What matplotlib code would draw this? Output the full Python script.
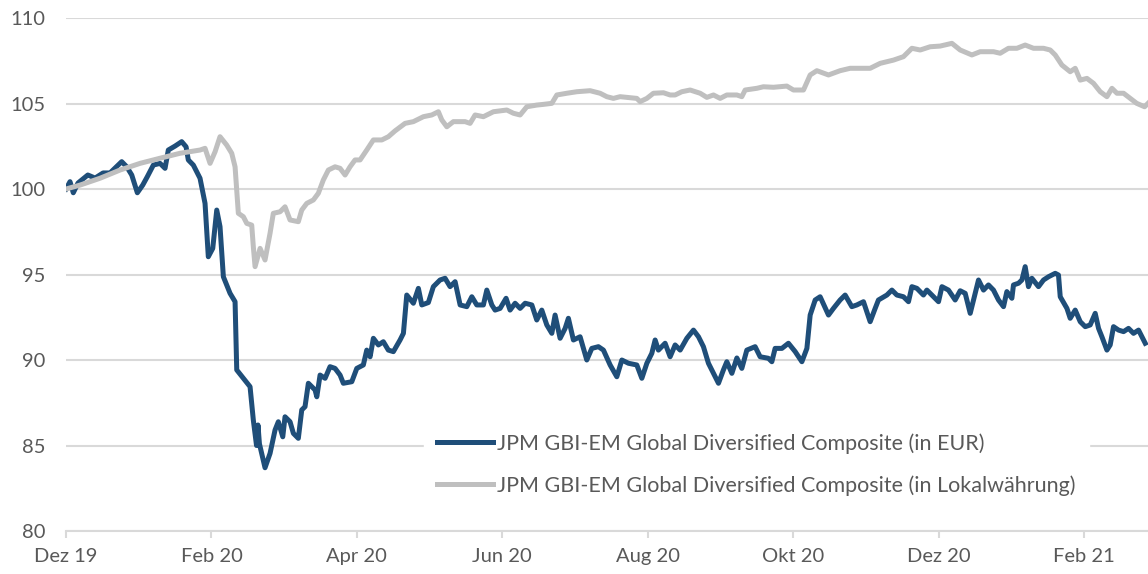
import matplotlib
matplotlib.use("Agg")
import matplotlib.pyplot as plt

# x = months since Dez 19, y = index value (start = 100)
eur_x = [0.00, 0.055, 0.10, 0.165, 0.30, 0.40, 0.51, 0.605, 0.675, 0.766, 0.835, 0.904,
         0.981, 1.055, 1.118, 1.201, 1.293, 1.362, 1.407, 1.499, 1.591, 1.651, 1.682, 1.751,
         1.843, 1.912, 1.957, 2.018, 2.073, 2.118, 2.164, 2.256, 2.325, 2.348, 2.531, 2.576,
         2.62, 2.64, 2.66, 2.737, 2.806, 2.875, 2.920, 2.981, 3.012, 3.081, 3.127, 3.195,
         3.242, 3.287, 3.333, 3.425, 3.449, 3.494, 3.563, 3.631, 3.700, 3.769, 3.814, 3.930,
         3.999, 4.089, 4.136, 4.182, 4.227, 4.296, 4.364, 4.433, 4.502, 4.594, 4.640, 4.686,
         4.777, 4.846, 4.893, 4.983, 5.052, 5.144, 5.213, 5.282, 5.351, 5.420, 5.512, 5.581,
         5.649, 5.740, 5.787, 5.856, 5.901, 5.970, 6.052, 6.107, 6.176, 6.245, 6.314, 6.406,
         6.474, 6.543, 6.612, 6.681, 6.726, 6.795, 6.864, 6.909, 6.978, 7.070, 7.162, 7.231,
         7.322, 7.391, 7.483, 7.575, 7.644, 7.735, 7.850, 7.919, 7.988, 8.056, 8.102, 8.147,
         8.239, 8.308, 8.377, 8.446, 8.538, 8.629, 8.698, 8.766, 8.835, 8.904, 8.973, 9.041,
         9.088, 9.157, 9.226, 9.294, 9.363, 9.477, 9.546, 9.660, 9.707, 9.752, 9.845, 9.935,
         10.028, 10.120, 10.189, 10.234, 10.303, 10.371, 10.486, 10.554, 10.646, 10.715, 10.807,
         10.876, 10.967, 11.059, 11.128, 11.173, 11.289, 11.358, 11.426, 11.517, 11.586, 11.633,
         11.702, 11.792, 11.839, 11.908, 11.999, 12.046, 12.136, 12.228, 12.297, 12.366, 12.435,
         12.503, 12.549, 12.618, 12.686, 12.755, 12.824, 12.893, 12.939, 13.008, 13.030, 13.099,
         13.146, 13.191, 13.236, 13.283, 13.374, 13.443, 13.512, 13.604, 13.649, 13.673, 13.765,
         13.810, 13.879, 13.948, 14.017, 14.085, 14.154, 14.200, 14.246, 14.315, 14.360, 14.406,
         14.475, 14.544, 14.612, 14.681, 14.750, 14.842]
eur_y = [100.0, 100.43, 99.78, 100.35, 100.82, 100.64, 100.94, 100.94, 101.23, 101.60, 101.30, 100.82,
         99.78, 100.23, 100.72, 101.40, 101.50, 101.21, 102.28, 102.51, 102.77, 102.47, 101.70, 101.40,
         100.63, 99.16, 96.04, 96.53, 98.77, 97.80, 94.87, 93.90, 93.41, 89.42, 88.44, 86.49,
         85.0, 86.2, 85.1, 83.7, 84.54, 85.91, 86.39, 85.51, 86.68, 86.39, 85.71, 85.42,
         87.08, 87.27, 88.64, 88.25, 87.85, 89.12, 88.93, 89.61, 89.51, 89.12, 88.64, 88.73,
         89.51, 89.71, 90.58, 90.19, 91.27, 90.88, 91.07, 90.58, 90.49, 91.17, 91.56, 93.80,
         93.32, 94.19, 93.22, 93.36, 94.29, 94.68, 94.78, 94.29, 94.58, 93.22, 93.12, 93.70,
         93.22, 93.22, 94.09, 93.22, 92.92, 93.02, 93.61, 92.92, 93.32, 93.02, 93.32, 93.22,
         92.34, 92.92, 92.05, 91.56, 92.63, 91.27, 91.85, 92.44, 91.17, 91.36, 90.00, 90.68,
         90.78, 90.58, 89.71, 89.02, 90.00, 89.81, 89.71, 88.93, 89.81, 90.39, 91.17, 90.58,
         90.98, 90.19, 90.88, 90.58, 91.27, 91.75, 91.36, 90.78, 89.81, 89.22, 88.64, 89.42,
         89.90, 89.22, 90.12, 89.51, 90.58, 90.78, 90.19, 90.10, 89.90, 90.68, 90.68, 90.98,
         90.49, 89.90, 90.68, 92.63, 93.51, 93.70, 92.63, 93.02, 93.51, 93.80, 93.12,
         93.22, 93.41, 92.24, 93.02, 93.51, 93.80, 94.09, 93.80, 93.70, 93.41, 94.29,
         94.19, 93.80, 94.09, 93.80, 93.41, 94.29, 94.09, 93.51, 94.05, 93.90, 92.73,
         93.90, 94.68, 94.09, 94.39, 94.09, 93.51, 93.12, 94.00, 93.61, 94.39, 94.49,
         94.68, 95.46, 94.29, 94.78, 94.29, 94.68, 94.87, 95.07, 94.97, 93.70, 93.02,
         92.44, 92.92, 92.24, 91.95, 92.05, 92.73, 91.85, 91.36, 90.58, 90.88, 91.95,
         91.75, 91.66, 91.85, 91.56, 91.75, 90.98]

lokal_x = [0.00, 0.193, 0.468, 0.743, 1.018, 1.293, 1.568, 1.843, 1.912, 1.981, 2.050, 2.118,
           2.210, 2.279, 2.325, 2.370, 2.439, 2.486, 2.554, 2.576, 2.600, 2.669, 2.737, 2.806,
           2.851, 2.944, 3.012, 3.081, 3.195, 3.242, 3.311, 3.402, 3.470, 3.539, 3.608, 3.700,
           3.769, 3.838, 3.906, 3.975, 4.044, 4.136, 4.227, 4.343, 4.433, 4.525, 4.663, 4.777,
           4.915, 5.030, 5.121, 5.168, 5.237, 5.327, 5.488, 5.557, 5.626, 5.740, 5.878, 6.062,
           6.153, 6.245, 6.337, 6.474, 6.565, 6.681, 6.750, 6.887, 7.025, 7.208, 7.345, 7.437,
           7.528, 7.620, 7.712, 7.850, 7.895, 7.988, 8.078, 8.216, 8.308, 8.377, 8.469, 8.583,
           8.721, 8.813, 8.904, 8.996, 9.088, 9.226, 9.294, 9.340, 9.501, 9.591, 9.729, 9.913,
           10.004, 10.142, 10.234, 10.326, 10.486, 10.646, 10.784, 11.059, 11.197, 11.380, 11.517,
           11.633, 11.747, 11.884, 12.022, 12.183, 12.297, 12.458, 12.572, 12.755, 12.847, 12.961,
           13.077, 13.191, 13.305, 13.443, 13.535, 13.604, 13.696, 13.810, 13.879, 13.948, 14.040,
           14.131, 14.223, 14.315, 14.384, 14.453, 14.544, 14.636, 14.725, 14.833, 14.88]
lokal_y = [100.0, 100.23, 100.63, 101.11, 101.50, 101.80, 102.09, 102.28, 102.38, 101.50, 102.18, 103.06,
           102.57, 102.09, 101.30, 98.58, 98.38, 97.99, 97.89, 96.63, 95.46, 96.53, 95.85, 97.41,
           98.58, 98.67, 98.96, 98.19, 98.09, 98.77, 99.16, 99.36, 99.75, 100.53, 101.11, 101.30,
           101.21, 100.82, 101.30, 101.70, 101.70, 102.28, 102.87, 102.87, 103.06, 103.40, 103.84, 103.94,
           104.23, 104.33, 104.52, 104.04, 103.64, 103.94, 103.94, 103.84, 104.33, 104.23, 104.52, 104.62,
           104.43, 104.33, 104.81, 104.91, 104.95, 105.01, 105.50, 105.60, 105.69, 105.75, 105.60, 105.40,
           105.30, 105.40, 105.36, 105.30, 105.11, 105.30, 105.60, 105.63, 105.50, 105.50, 105.69, 105.79,
           105.60, 105.36, 105.50, 105.30, 105.50, 105.50, 105.40, 105.79, 105.89, 105.98, 105.95, 106.02,
           105.79, 105.79, 106.67, 106.92, 106.67, 106.92, 107.06, 107.06, 107.35, 107.54, 107.74,
           108.23, 108.13, 108.32, 108.36, 108.52, 108.13, 107.84, 108.03, 108.03, 107.94, 108.23,
           108.23, 108.42, 108.23, 108.23, 108.13, 107.84, 107.25, 106.86, 107.06, 106.37, 106.47,
           106.18, 105.69, 105.40, 105.89, 105.60, 105.60, 105.30, 105.01, 104.81, 105.01]

tick_pos = [0, 2, 4, 6, 8, 10, 12, 14]
tick_labels = ["Dez 19", "Feb 20", "Apr 20", "Jun 20", "Aug 20", "Okt 20", "Dez 20", "Feb 21"]
y_ticks = [80, 85, 90, 95, 100, 105, 110]

label_eur = "JPM GBI-EM Global Diversified Composite (in EUR)"
label_lokal = "JPM GBI-EM Global Diversified Composite (in Lokalwährung)"

plt.rcParams['font.family'] = ['Lato', 'DejaVu Sans']

fig = plt.figure(figsize=(11.48, 5.74), dpi=100)
ax = fig.add_axes([0.0575, 0.0749, 0.9425, 0.8937])

line_eur, = ax.plot(eur_x, eur_y, color='#1f4e79', linewidth=3.6, zorder=3,
                    solid_joinstyle='round', label=label_eur)
line_lokal, = ax.plot(lokal_x, lokal_y, color='#bfbfbf', linewidth=3.6, zorder=4,
                      solid_joinstyle='round', label=label_lokal)

ax.set_xlim(0, 14.88)
ax.set_ylim(80, 110)
ax.set_yticks(y_ticks)
ax.set_xticks(tick_pos)
ax.set_xticklabels(tick_labels)

ax.grid(axis='y', color='#d9d9d9', linewidth=1.5, zorder=0)
for s in ['top', 'right', 'left']:
    ax.spines[s].set_visible(False)
ax.spines['bottom'].set_color('#d9d9d9')
ax.spines['bottom'].set_linewidth(1.5)

ax.tick_params(axis='y', length=0, pad=15, labelsize=14.5, labelcolor='#595959')
ax.tick_params(axis='x', length=5, width=1.5, color='#d9d9d9', pad=7,
               labelsize=14.5, labelcolor='#595959')

leg = ax.legend(handles=[line_eur, line_lokal], loc='center',
                bbox_to_anchor=(0.638, 0.13), frameon=True, fontsize=15.5,
                handlelength=2.6, handletextpad=0.2, labelspacing=1.0,
                borderpad=0.6, borderaxespad=0)
leg.get_frame().set_edgecolor('white')
leg.get_frame().set_facecolor('white')
leg.get_frame().set_alpha(1)
for t in leg.get_texts():
    t.set_color('#595959')
leg.set_zorder(5)

plt.savefig('out.png', dpi=100, facecolor='white')
